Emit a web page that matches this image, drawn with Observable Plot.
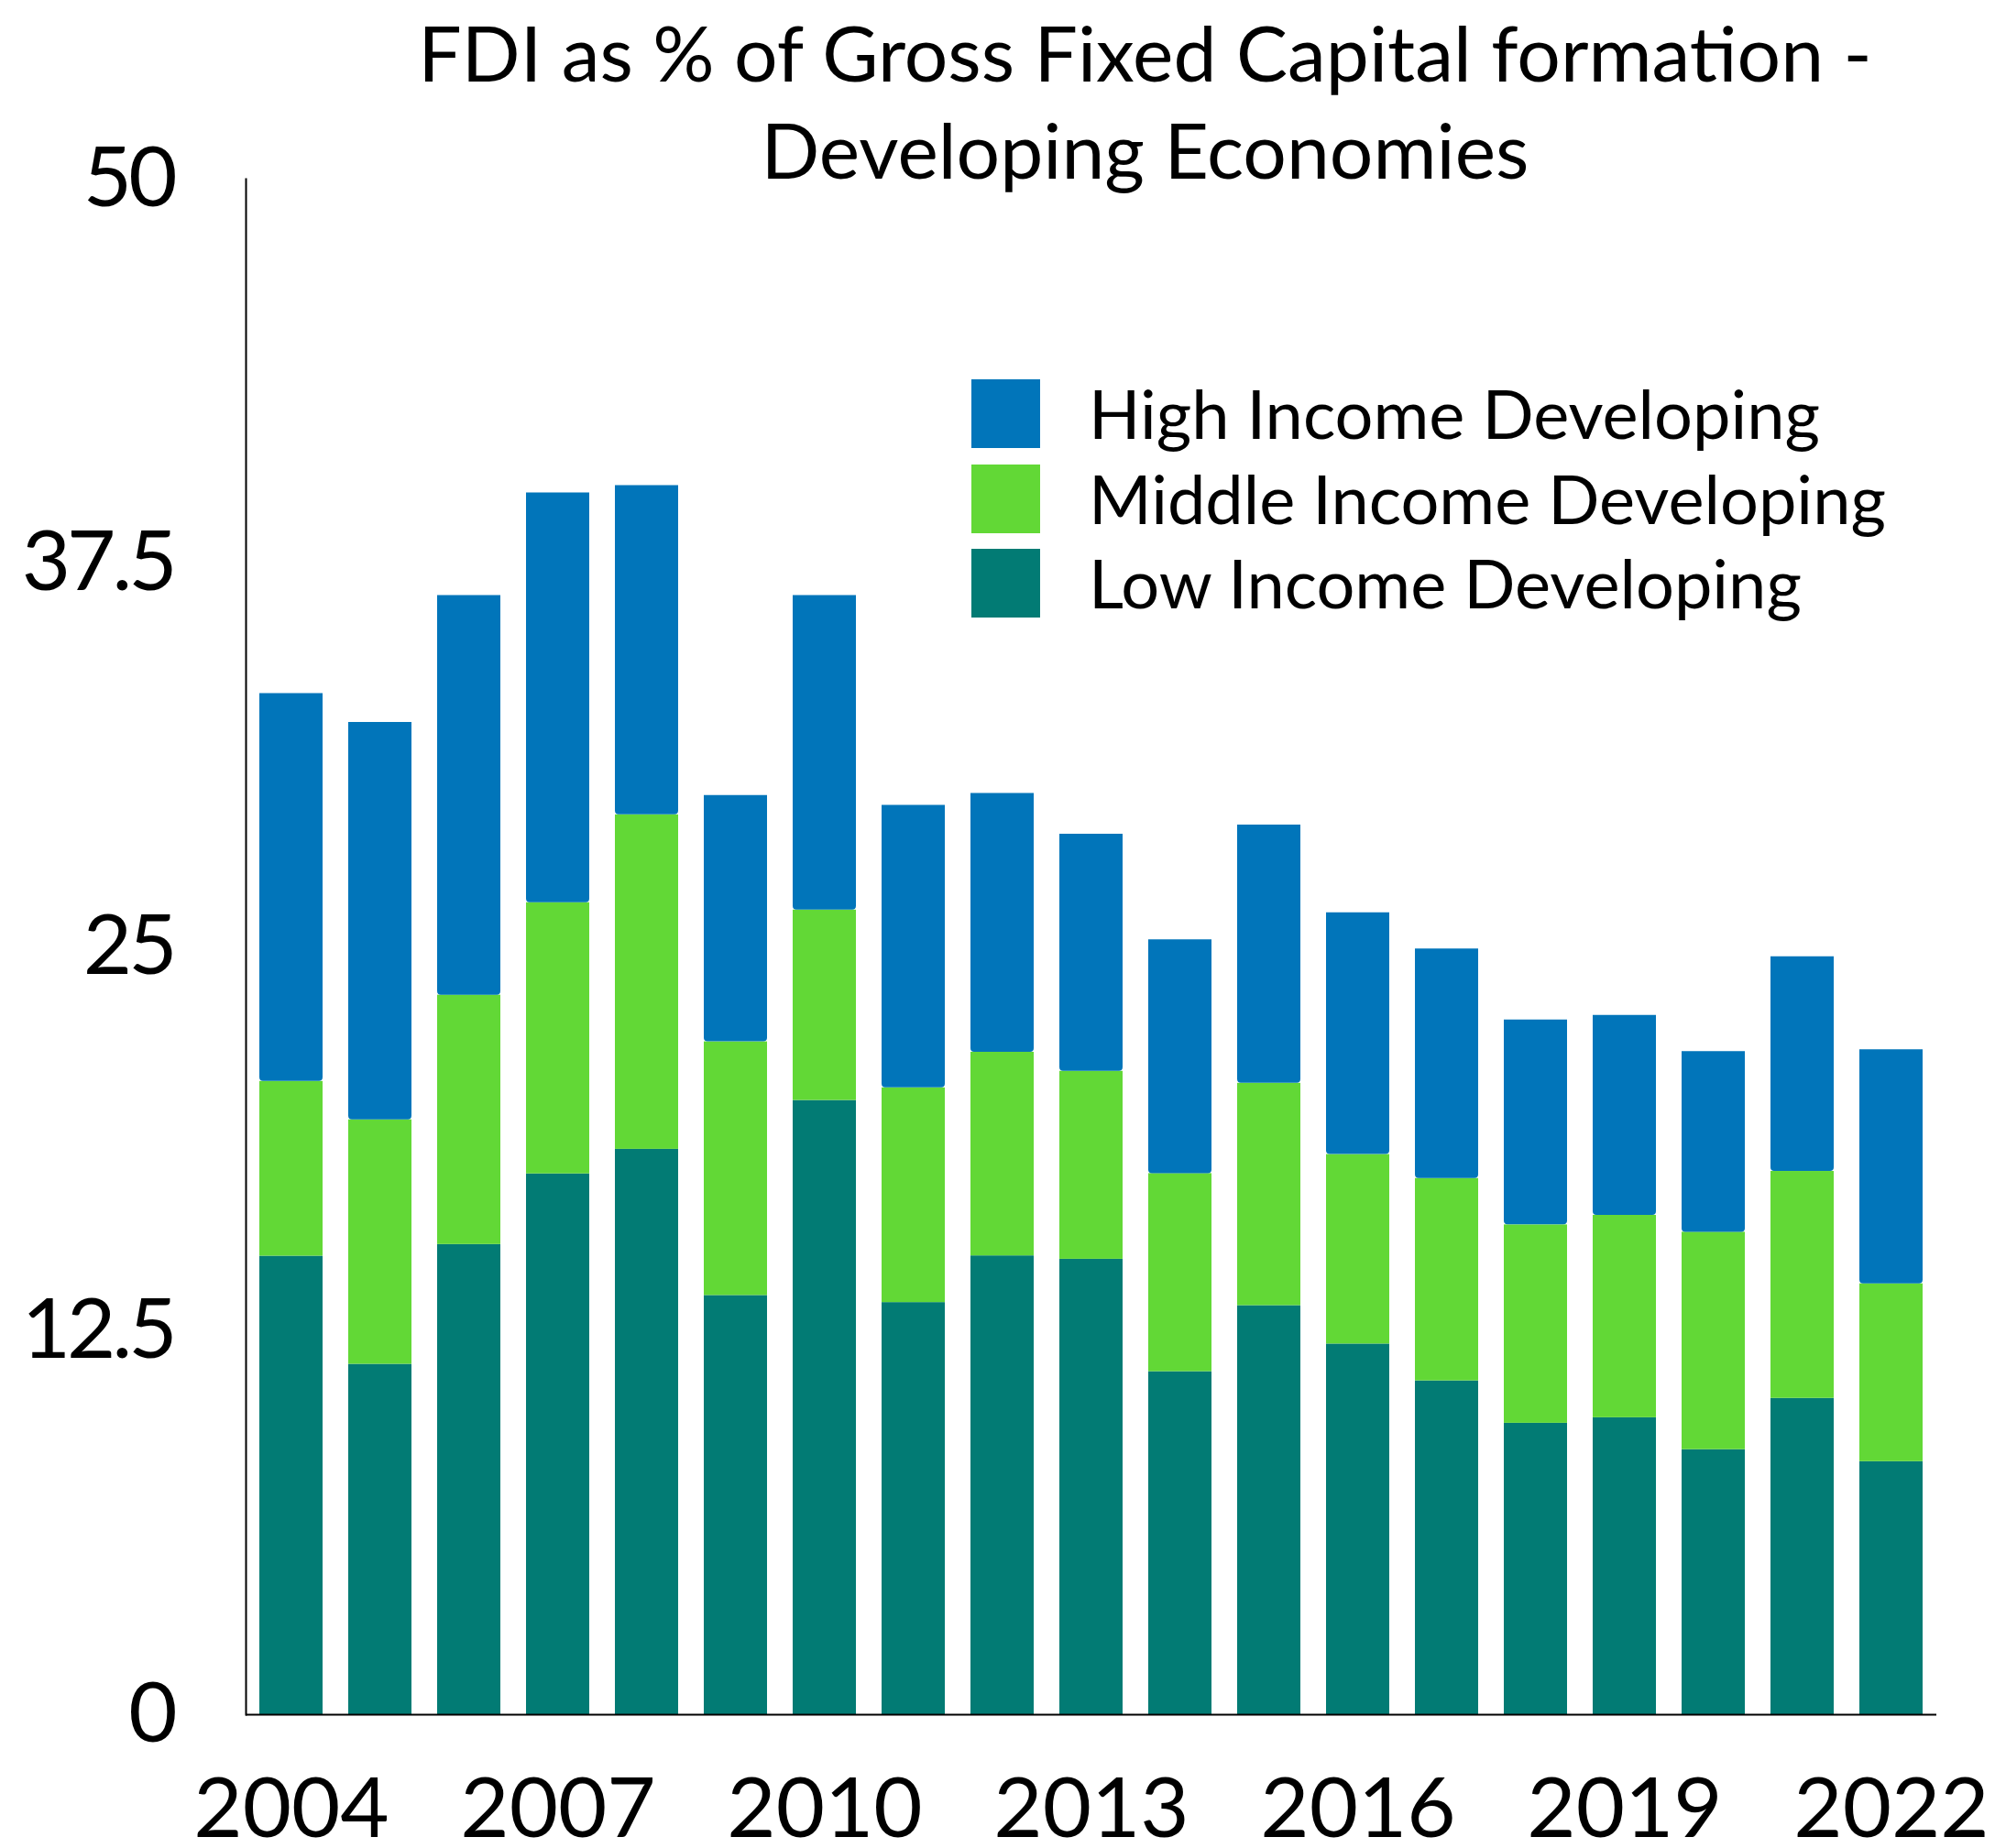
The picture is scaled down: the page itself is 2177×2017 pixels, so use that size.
<!DOCTYPE html>
<html>
<head>
<meta charset="utf-8">
<script src="https://cdn.jsdelivr.net/npm/d3@7"></script>
<script src="https://cdn.jsdelivr.net/npm/@observablehq/plot@0.6"></script>
<style>
  html, body { margin: 0; padding: 0; background: #fff; }
  #wrap { position: relative; width: 2177px; height: 2017px; overflow: hidden; font-family: "Lato", sans-serif; color: #000; }
  #chart { position: absolute; left: 0; top: 0; }
  .title { position: absolute; left: 1249.5px; transform: translateX(-50%); white-space: nowrap; font-size: 84px; line-height: 84px; }
  #legend { position: absolute; left: 1060px; top: 414px; }
  .lg-row { display: flex; align-items: flex-start; height: 92.7px; }
  .lg-sw { width: 75px; height: 75px; }
  .lg-tx { margin-left: 53px; font-size: 74px; line-height: 74px; white-space: nowrap; }
  #chart g[aria-label="y-axis tick label"] text { letter-spacing: -4px; }
</style>
</head>
<body>
<div id="wrap">
  <div id="chart"></div>
  <div class="title" id="t1" style="top:14.5px"></div>
  <div class="title" id="t2" style="top:121.2px"></div>
  <div id="legend"></div>
</div>
<script>
// ---- data ----
const years = ["2004","2005","2006","2007","2008","2009","2010","2011","2012","2013","2014","2015","2016","2017","2018","2019","2020","2021","2022"];
const lowIncome    = [14.93, 11.41, 15.31, 17.61, 18.41, 13.65, 20.00, 13.42, 14.94, 14.83, 11.17, 13.32, 12.07, 10.87, 9.49, 9.67, 8.63, 10.30, 8.24];
const middleIncome = [5.69, 7.96, 8.12, 8.83, 10.89, 8.26, 6.20, 6.99, 6.63, 6.12, 6.45, 7.24, 6.17, 6.59, 6.46, 6.59, 7.08, 7.39, 5.79];
const highIncome   = [12.63, 12.94, 13.01, 13.34, 10.72, 8.02, 10.24, 9.20, 8.43, 7.72, 7.61, 8.41, 7.87, 7.47, 6.67, 6.51, 5.88, 6.99, 7.62];
const seriesNames  = ["High Income Developing", "Middle Income Developing", "Low Income Developing"];
const seriesColors = ["#0175BA", "#62D836", "#027B74"];
const yTicks       = [0, 12.5, 25, 37.5, 50];
const xTickLabels  = ["2004", "2007", "2010", "2013", "2016", "2019", "2022"];
const titleLines   = ["FDI as % of Gross Fixed Capital formation -", "Developing Economies"];

// ---- build stacked rows ----
const lowerRows = [];
const highRows = [];
years.forEach((year, i) => {
  const a = lowIncome[i], b = a + middleIncome[i], c = b + highIncome[i];
  lowerRows.push({year, series: seriesNames[2], y1: 0, y2: a});
  lowerRows.push({year, series: seriesNames[1], y1: a, y2: b});
  highRows.push({year, series: seriesNames[0], y1: b, y2: c});
});

const chart = Plot.plot({
  width: 2177,
  height: 2017,
  marginLeft: 268,
  marginRight: 64,
  marginTop: 195,
  marginBottom: 146,
  style: {fontFamily: "Lato, sans-serif", color: "#000", background: "transparent"},
  x: {domain: years, paddingInner: 0.29, paddingOuter: 0.15},
  y: {domain: [0, 50]},
  color: {domain: seriesNames, range: seriesColors},
  marks: [
    Plot.barY(lowerRows, {x: "year", y1: "y1", y2: "y2", fill: "series"}),
    Plot.barY(highRows, {x: "year", y1: "y1", y2: "y2", fill: "series", ry2: 4}),
    Plot.axisX({ticks: xTickLabels, tickSize: 0, tickPadding: 68, fontSize: 92, label: null}),
    Plot.axisY({ticks: yTicks, tickSize: 0, tickPadding: 79, fontSize: 92, label: null, tickFormat: d => String(d)}),
    Plot.ruleY([0], {stroke: "#000", strokeWidth: 2}),
    Plot.frame({anchor: "left", stroke: "#000", strokeWidth: 2})
  ]
});
document.getElementById("chart").appendChild(chart);

document.getElementById("t1").textContent = titleLines[0];
document.getElementById("t2").textContent = titleLines[1];

const legend = document.getElementById("legend");
seriesNames.forEach((name, i) => {
  const row = document.createElement("div");
  row.className = "lg-row";
  const sw = document.createElement("div");
  sw.className = "lg-sw";
  sw.style.background = seriesColors[i];
  const tx = document.createElement("div");
  tx.className = "lg-tx";
  tx.textContent = name;
  row.appendChild(sw);
  row.appendChild(tx);
  legend.appendChild(row);
});
</script>
</body>
</html>
